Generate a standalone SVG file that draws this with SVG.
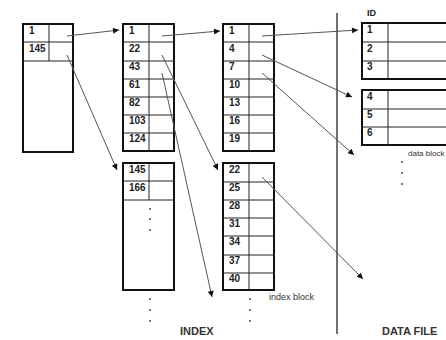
<svg xmlns="http://www.w3.org/2000/svg" width="446" height="340" viewBox="0 0 446 340">
<style>
.box{fill:#fff;stroke:#111;stroke-width:2}
.ln{stroke:#222;stroke-width:1;fill:none}
.t{font-family:"Liberation Sans",Arial,sans-serif;font-size:10px;font-weight:bold;fill:#222}
.lab{font-family:"Liberation Sans",Arial,sans-serif;font-size:11px;font-weight:bold;fill:#333}
.sm{font-family:"Liberation Sans",Arial,sans-serif;font-size:9px;fill:#333}
.dot{fill:#333}
.ar{stroke:#555;stroke-width:1;fill:none;marker-end:url(#ah)}
</style>
<defs>
<marker id="ah" viewBox="0 0 10 10" refX="10" refY="5" markerWidth="9" markerHeight="6" markerUnits="userSpaceOnUse" orient="auto">
<path d="M0,0 L10,5 L0,10 z" fill="#111"/>
</marker>
</defs>
<rect width="446" height="340" fill="#fff"/>

<g id="root-block">
<rect class="box" x="23" y="24" width="50" height="128"/>
<path class="ln" d="M49,24V61M23,42H73M23,61H73"/>
<text class="t" x="29" y="34">1</text>
<text class="t" x="29" y="52">145</text>
</g>

<g id="index-b1">
<rect class="box" x="123" y="24" width="51" height="127"/>
<path class="ln" d="M149,24V151M123,42H174M123,61H174M123,79H174M123,97H174M123,115H174M123,133H174"/>
<text class="t" x="129" y="34">1</text>
<text class="t" x="129" y="52">22</text>
<text class="t" x="129" y="70">43</text>
<text class="t" x="129" y="88">61</text>
<text class="t" x="129" y="106">82</text>
<text class="t" x="129" y="124">103</text>
<text class="t" x="129" y="142">124</text>
</g>

<g id="index-b2">
<rect class="box" x="123" y="163" width="51" height="127"/>
<path class="ln" d="M149,163V200M123,181H174M123,200H174"/>
<text class="t" x="129" y="173">145</text>
<text class="t" x="129" y="191">166</text>
<circle class="dot" cx="150" cy="209" r="0.9"/>
<circle class="dot" cx="150" cy="219" r="0.9"/>
<circle class="dot" cx="150" cy="230" r="0.9"/>
</g>
<g id="index-dots1">
<circle class="dot" cx="150" cy="299" r="0.9"/>
<circle class="dot" cx="150" cy="310" r="0.9"/>
<circle class="dot" cx="150" cy="321" r="0.9"/>
</g>

<g id="index-c1">
<rect class="box" x="223" y="24" width="51" height="127"/>
<path class="ln" d="M249,24V151M223,42H274M223,61H274M223,79H274M223,97H274M223,115H274M223,133H274"/>
<text class="t" x="229" y="34">1</text>
<text class="t" x="229" y="52">4</text>
<text class="t" x="229" y="70">7</text>
<text class="t" x="229" y="88">10</text>
<text class="t" x="229" y="106">13</text>
<text class="t" x="229" y="124">16</text>
<text class="t" x="229" y="142">19</text>
</g>

<g id="index-c2">
<rect class="box" x="223" y="163" width="51" height="127"/>
<path class="ln" d="M249,163V290M223,182H274M223,200H274M223,218H274M223,236H274M223,255H274M223,273H274"/>
<text class="t" x="229" y="173">22</text>
<text class="t" x="229" y="191">25</text>
<text class="t" x="229" y="209">28</text>
<text class="t" x="229" y="227">31</text>
<text class="t" x="229" y="245">34</text>
<text class="t" x="229" y="264">37</text>
<text class="t" x="229" y="282">40</text>
</g>
<g id="index-dots2">
<circle class="dot" cx="250" cy="299" r="0.9"/>
<circle class="dot" cx="250" cy="310" r="0.9"/>
<circle class="dot" cx="250" cy="321" r="0.9"/>
</g>
<text class="sm" x="269" y="300">index block</text>

<line x1="337" y1="13" x2="337" y2="334" stroke="#111" stroke-width="1.2"/>

<text class="t" x="367" y="16" style="font-size:9px">ID</text>
<g id="data-block-1">
<rect class="box" x="362" y="23" width="100" height="56"/>
<path class="ln" d="M388,23V79M362,42H462M362,61H462"/>
<text class="t" x="367" y="33">1</text>
<text class="t" x="367" y="52">2</text>
<text class="t" x="367" y="70">3</text>
</g>
<g id="data-block-2">
<rect class="box" x="362" y="90" width="100" height="55"/>
<path class="ln" d="M388,90V145M362,109H462M362,127H462"/>
<text class="t" x="367" y="100">4</text>
<text class="t" x="367" y="118">5</text>
<text class="t" x="367" y="136">6</text>
</g>
<text class="sm" x="408" y="156" style="font-size:8px">data block</text>
<g id="data-dots">
<circle class="dot" cx="402" cy="162" r="0.9"/>
<circle class="dot" cx="402" cy="173" r="0.9"/>
<circle class="dot" cx="402" cy="184" r="0.9"/>
</g>

<text class="lab" x="180" y="335">INDEX</text>
<text class="lab" x="382" y="335">DATA FILE</text>

<g id="connectors">
<line class="ar" x1="67" y1="36" x2="119" y2="30"/>
<line class="ar" x1="67" y1="55" x2="117" y2="170"/>
<line class="ar" x1="162" y1="36" x2="220" y2="31"/>
<line class="ar" x1="162" y1="55" x2="218" y2="170"/>
<line class="ar" x1="162" y1="73" x2="212" y2="297"/>
<line class="ar" x1="262" y1="36" x2="358" y2="30"/>
<line class="ar" x1="262" y1="55" x2="352" y2="97"/>
<line class="ar" x1="262" y1="73" x2="354" y2="155"/>
<line class="ar" x1="262" y1="177" x2="363" y2="279"/>
</g>
</svg>
